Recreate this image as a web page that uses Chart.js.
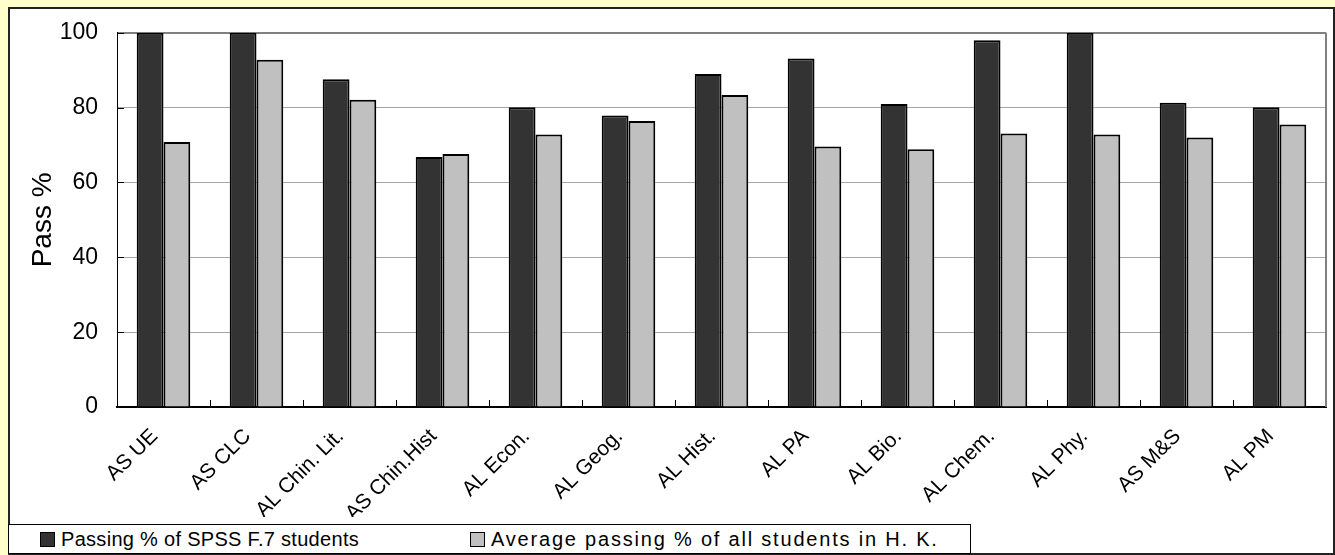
<!DOCTYPE html>
<html>
<head>
<meta charset="utf-8">
<script src="https://cdn.jsdelivr.net/npm/chart.js@4.4.1/dist/chart.umd.min.js"></script>
<style>
  body { margin: 0; background: #ffffcc; font-family: 'Liberation Sans', Arial, sans-serif; }
  #frame { position: absolute; left: 8px; top: 7px; width: 1323px; height: 544px; background: #fff; border: 2px solid #222; }
  #chartCanvas { position: absolute; left: 0; top: 0; }
  #legend { position: absolute; left: 8px; top: 524px; width: 961px; height: 28px; border: 1px solid #000; background: #fff; font-size: 20px; color: #000; }
  .item { position: absolute; top: 3px; white-space: nowrap; line-height: 22px; }
  .sw { display: inline-block; width: 13px; height: 13px; border: 1px solid #000; margin-right: 6px; vertical-align: -1px; }
</style>
</head>
<body>
<div id="frame"></div>
<canvas id="chartCanvas" width="1335" height="555"></canvas>
<div id="legend"></div>
<script>
// Categorias e valores (Pass %)
const subjects = ['AS UE', 'AS CLC', 'AL Chin. Lit.', 'AS Chin.Hist', 'AL Econ.', 'AL Geog.', 'AL Hist.', 'AL PA', 'AL Bio.', 'AL Chem.', 'AL Phy.', 'AS M&S', 'AL PM'];
const spssPass = [100, 100, 87.6, 66.8, 80.1, 77.9, 89.0, 93.1, 81.0, 98.0, 100, 81.3, 80.1];
const hkPass = [70.8, 92.8, 82.1, 67.6, 72.8, 76.4, 83.4, 69.6, 68.9, 73.1, 72.8, 72.0, 75.5];
const seriesNames = ['Passing % of SPSS F.7 students', 'Average passing % of all students in H. K.'];
const seriesColors = ['#333333', '#c0c0c0'];
const yTicks = [0, 20, 40, 60, 80, 100];

const fontFamily = "'Liberation Sans', Arial, sans-serif";

// tracinhos para dentro + borda direita
const innerTicks = {
    id: 'innerTicks',
    afterDraw(chart) {
        const { ctx, chartArea } = chart;
        const x = chart.scales.x, y = chart.scales.y;
        ctx.save();
        ctx.strokeStyle = '#808080';
        ctx.lineWidth = 2;
        ctx.beginPath();
        ctx.moveTo(chartArea.right, chartArea.top);
        ctx.lineTo(chartArea.right, chartArea.bottom);
        ctx.stroke();
        ctx.strokeStyle = '#000';
        ctx.lineWidth = 1;
        ctx.beginPath();
        for (let i = 1; i < subjects.length; i++) {
            const px = Math.round((x.getPixelForValue(i - 1) + x.getPixelForValue(i)) / 2) + 0.5;
            ctx.moveTo(px, chartArea.bottom);
            ctx.lineTo(px, chartArea.bottom - 7);
        }
        yTicks.forEach(v => {
            const py = Math.round(y.getPixelForValue(v)) + 0.5;
            ctx.moveTo(chartArea.left, py);
            ctx.lineTo(chartArea.left + 7, py);
        });
        ctx.stroke();
        ctx.restore();
    }
};

new Chart(document.getElementById('chartCanvas').getContext('2d'), {
    type: 'bar',
    data: {
        labels: subjects,
        datasets: [
            {
                label: seriesNames[0],
                data: spssPass,
                backgroundColor: seriesColors[0],
                borderColor: '#000',
                borderWidth: 2,
                categoryPercentage: 0.576,
                barPercentage: 1.0
            },
            {
                label: seriesNames[1],
                data: hkPass,
                backgroundColor: seriesColors[1],
                borderColor: '#000',
                borderWidth: 2,
                categoryPercentage: 0.576,
                barPercentage: 1.0
            }
        ]
    },
    options: {
        responsive: false,
        animation: false,
        layout: { padding: { left: 22, top: 29, right: 9, bottom: 38 } },
        plugins: {
            legend: { display: false },
            tooltip: { enabled: false }
        },
        scales: {
            x: {
                afterFit: s => { s.height = 110; },
                grid: { display: false },
                border: { color: '#000', width: 2 },
                ticks: {
                    color: '#000',
                    font: { size: 21, family: fontFamily },
                    maxRotation: 45,
                    minRotation: 45,
                    padding: 9,
                    labelOffset: -9
                }
            },
            y: {
                min: 0,
                max: 100,
                afterFit: s => { s.width = 95; },
                afterBuildTicks: s => { s.ticks = yTicks.map(v => ({ value: v })); },
                grid: {
                    drawTicks: false,
                    color: c => c.tick && c.tick.value === 100 ? '#808080' : '#a6a6a6',
                    lineWidth: c => c.tick && c.tick.value === 100 ? 2 : 1
                },
                border: { color: '#000', width: 1 },
                ticks: {
                    color: '#000',
                    font: { size: 23, family: fontFamily },
                    padding: 19
                },
                title: {
                    display: true,
                    text: 'Pass %',
                    color: '#000',
                    font: { size: 28, family: fontFamily }
                }
            }
        }
    },
    plugins: [innerTicks]
});

// Legenda
function renderLegend() {
    const box = document.getElementById('legend');
    const lefts = [31, 461];
    const spacing = ['0.3px', '1.8px'];
    for (let i = 0; i < seriesNames.length; i++) {
        const item = document.createElement('span');
        item.className = 'item';
        item.style.left = lefts[i] + 'px';
        item.innerHTML = `<span class="sw" style="background:${seriesColors[i]}"></span><span style="letter-spacing:${spacing[i]}">${seriesNames[i]}</span>`;
        box.appendChild(item);
    }
}
renderLegend();
</script>
</body>
</html>
